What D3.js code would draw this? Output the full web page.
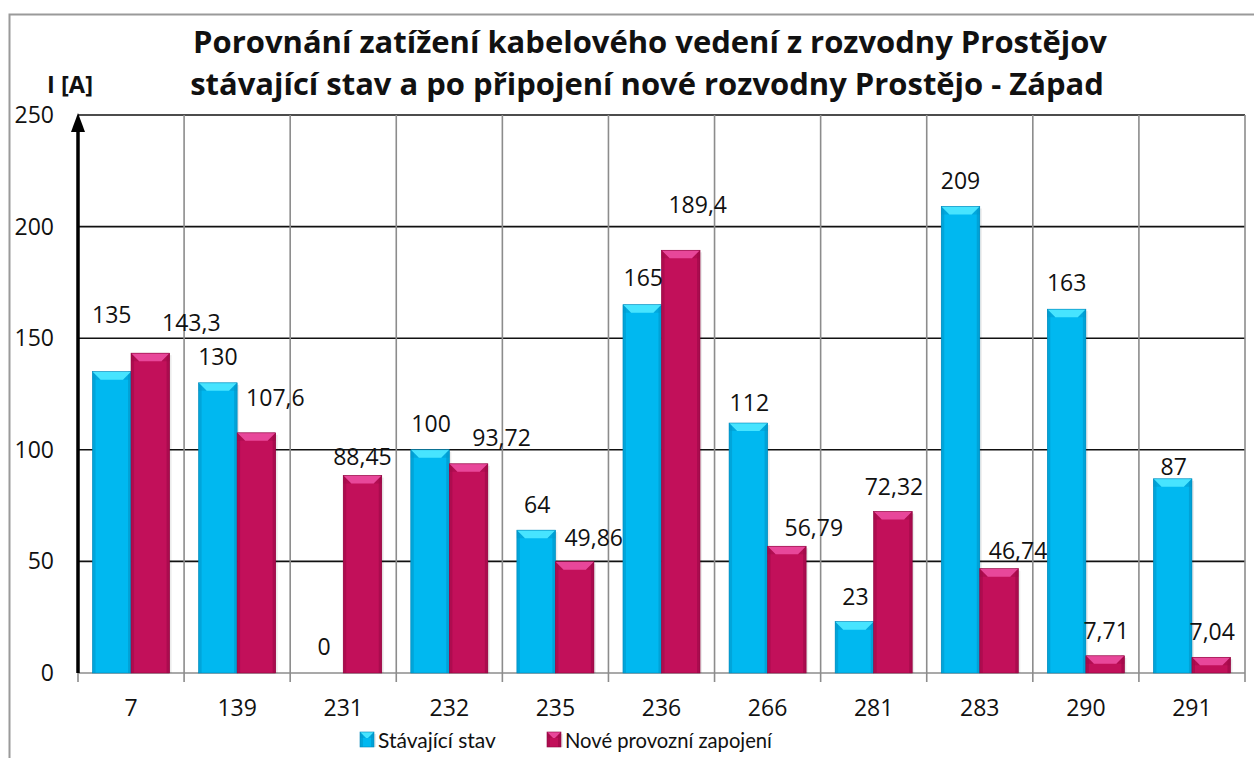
<!DOCTYPE html>
<html>
<head>
<meta charset="utf-8">
<script src="https://cdn.jsdelivr.net/npm/d3@7/dist/d3.min.js"></script>
<style>
  html, body { margin: 0; padding: 0; background: #fff; }
  svg { display: block; font-family: "Open Sans", Lato, sans-serif; }
</style>
</head>
<body>
<svg id="chart" width="1254" height="758"></svg>
<script>
// Cable feeders (line numbers) from the Prostějov substation
const categories = ["7", "139", "231", "232", "235", "236", "266", "281", "283", "290", "291"];
// Current load I [A]: present state
const currentState = [135, 130, 0, 100, 64, 165, 112, 23, 209, 163, 87];
// Current load I [A]: after connecting the new substation Prostějov - Západ
const newState = [143.3, 107.6, 88.45, 93.72, 49.86, 189.4, 56.79, 72.32, 46.74, 7.71, 7.04];
const seriesNames = ["Stávající stav", "Nové provozní zapojení"];
const yTicks = [0, 50, 100, 150, 200, 250];
const titleLines = [
  "Porovnání zatížení kabelového vedení z rozvodny Prostějov",
  "stávající stav a po připojení nové rozvodny Prostějo - Západ"
];

const svg = d3.select("#chart");
const W = 1254, H = 758;
const plot = { left: 78, right: 1245, top: 115, bottom: 673 };
const NUM_SIZE = 23;

// hand-placed label nudges (px) relative to the top centre of each bar
const nudge = [
  [[0, -57], [41, -30]],
  [[0, -26], [19, -35]],
  [[0, -26], [0, -19]],
  [[1, -26], [33, -26]],
  [[1, -25], [19, -24]],
  [[1, -27], [17, -45]],
  [[1, -20], [27, -18]],
  [[1, -25], [1, -25]],
  [[0, -26], [19, -18]],
  [[0, -26], [1, -25]],
  [[1, -12], [1, -25]]
];

const palette = [
  { base: "#00B8F0", light: "#47E4FF", dark: "#0098CC", edge: "#0086B8" },
  { base: "#C2105A", light: "#E8479A", dark: "#A00A48", edge: "#8E0840" }
];

const rows = categories.map((c, i) => ({ cat: c, values: [currentState[i], newState[i]] }));

const x0 = d3.scaleBand().domain(categories).range([plot.left, plot.right]).paddingInner(0).paddingOuter(0);
const x1 = d3.scaleBand().domain([0, 1]).range([0, x0.bandwidth()]).paddingInner(0).paddingOuter(0.377);
const y = d3.scaleLinear().domain([0, 250]).range([plot.bottom, plot.top]);

// size a text element's font so that its width comes out at `target` px
function fitWidth(sel, target, startSize) {
  sel.attr("font-size", startSize);
  const w = sel.node().getComputedTextLength();
  if (w > 0) sel.attr("font-size", startSize * target / w);
  return sel;
}

// outer chart frame
svg.append("path")
  .attr("d", `M9.5,${H} V14.5 H${W}`)
  .attr("fill", "none").attr("stroke", "#9a9a9a").attr("stroke-width", 2);

// horizontal grid (black)
svg.append("g").selectAll("line").data(yTicks.filter(t => t > 0)).join("line")
  .attr("x1", plot.left).attr("x2", plot.right)
  .attr("y1", d => y(d)).attr("y2", d => y(d))
  .attr("stroke", "#111").attr("stroke-width", 1.6);

// vertical grid (grey) at category boundaries
const bounds = categories.map(c => x0(c)).concat([plot.right]);
svg.append("g").selectAll("line").data(bounds.slice(1)).join("line")
  .attr("x1", d => d).attr("x2", d => d)
  .attr("y1", plot.top).attr("y2", plot.bottom)
  .attr("stroke", "#8c8c8c").attr("stroke-width", 1.6);

// x axis with boundary ticks
const xAxisG = svg.append("g");
xAxisG.append("line")
  .attr("x1", plot.left).attr("x2", plot.right)
  .attr("y1", plot.bottom).attr("y2", plot.bottom)
  .attr("stroke", "#8c8c8c").attr("stroke-width", 1.6);
xAxisG.selectAll("line.tick").data(bounds).join("line").attr("class", "tick")
  .attr("x1", d => d).attr("x2", d => d)
  .attr("y1", plot.bottom).attr("y2", plot.bottom + 9)
  .attr("stroke", "#8c8c8c").attr("stroke-width", 1.6);
xAxisG.selectAll("text").data(categories).join("text")
  .attr("x", d => x0(d) + x0.bandwidth() / 2)
  .attr("y", 716)
  .attr("text-anchor", "middle")
  .attr("font-size", NUM_SIZE).attr("fill", "#111")
  .text(d => d);

// y tick labels
svg.append("g").selectAll("text").data(yTicks).join("text")
  .attr("x", 54).attr("y", d => y(d) + 8)
  .attr("text-anchor", "end")
  .attr("font-size", NUM_SIZE).attr("fill", "#111")
  .text(d => d);

// bars with bevelled tops
function drawBar(g, bx, by, bw, bh, col, bevMax = 8) {
  if (bh <= 0) return;
  const bev = Math.min(bevMax, bh);
  g.append("rect").attr("x", bx + 2).attr("y", by + 2).attr("width", bw).attr("height", bh - 2)
    .attr("fill", "#000").attr("opacity", 0.08);
  g.append("rect").attr("x", bx).attr("y", by).attr("width", bw).attr("height", bh)
    .attr("fill", col.base);
  g.append("rect").attr("x", bx).attr("y", by).attr("width", 3).attr("height", bh)
    .attr("fill", col.dark).attr("opacity", 0.6);
  g.append("rect").attr("x", bx + bw - 3).attr("y", by).attr("width", 3).attr("height", bh)
    .attr("fill", col.dark).attr("opacity", 0.7);
  g.append("polygon")
    .attr("points", [[bx, by], [bx + bw, by], [bx + bw - bev, by + bev], [bx + bev, by + bev]].map(p => p.join(",")).join(" "))
    .attr("fill", col.light);
  g.append("polygon")
    .attr("points", [[bx, by], [bx + bev, by + bev], [bx, by + bev]].map(p => p.join(",")).join(" "))
    .attr("fill", col.dark).attr("opacity", 0.5);
  g.append("polygon")
    .attr("points", [[bx + bw, by], [bx + bw - bev, by + bev], [bx + bw, by + bev]].map(p => p.join(",")).join(" "))
    .attr("fill", col.dark).attr("opacity", 0.5);
  g.append("rect").attr("x", bx).attr("y", by).attr("width", bw).attr("height", bh)
    .attr("fill", "none").attr("stroke", col.edge).attr("stroke-width", 0.6);
}

const barsG = svg.append("g");
rows.forEach(r => {
  r.values.forEach((v, s) => {
    const bx = x0(r.cat) + x1(s);
    drawBar(barsG, bx, y(v), x1.bandwidth(), y(0) - y(v), palette[s]);
  });
});

// value labels
const fmt = v => String(v).replace(".", ",");
const labelsG = svg.append("g");
rows.forEach((r, i) => {
  r.values.forEach((v, s) => {
    const cx = x0(r.cat) + x1(s) + x1.bandwidth() / 2;
    labelsG.append("text")
      .attr("x", cx + nudge[i][s][0])
      .attr("y", y(v) + nudge[i][s][1] + 8)
      .attr("text-anchor", "middle")
      .attr("font-size", NUM_SIZE).attr("fill", "#111")
      .text(fmt(v));
  });
});

// y axis arrow
svg.append("line")
  .attr("x1", plot.left).attr("x2", plot.left)
  .attr("y1", plot.bottom).attr("y2", plot.top + 14)
  .attr("stroke", "#000").attr("stroke-width", 3.5);
svg.append("polygon")
  .attr("points", `${plot.left},${plot.top - 2} ${plot.left - 7},${plot.top + 17} ${plot.left + 7},${plot.top + 17}`)
  .attr("fill", "#000");

// axis unit
fitWidth(svg.append("text").attr("x", 47).attr("y", 93)
  .attr("font-weight", "bold").attr("fill", "#111")
  .text("I [A]"), 46, 20);

// title
const titleX = [650, 647];
titleLines.forEach((t, i) => {
  fitWidth(svg.append("text")
    .attr("x", titleX[i]).attr("y", 53 + i * 42)
    .attr("text-anchor", "middle")
    .attr("font-weight", "bold").attr("fill", "#111")
    .text(t), 914, 29);
});

// legend
const legend = svg.append("g");
const legendItems = [{ x: 360, w: 118 }, { x: 547, w: 207 }];
legendItems.forEach((it, s) => {
  drawBar(legend, it.x, 732, 14, 15, palette[s], 6);
  fitWidth(legend.append("text").attr("x", it.x + 18).attr("y", 748)
    .attr("font-family", "Lato, 'Open Sans', sans-serif")
    .attr("fill", "#111")
    .text(seriesNames[s]), it.w, 22);
});
</script>
</body>
</html>
